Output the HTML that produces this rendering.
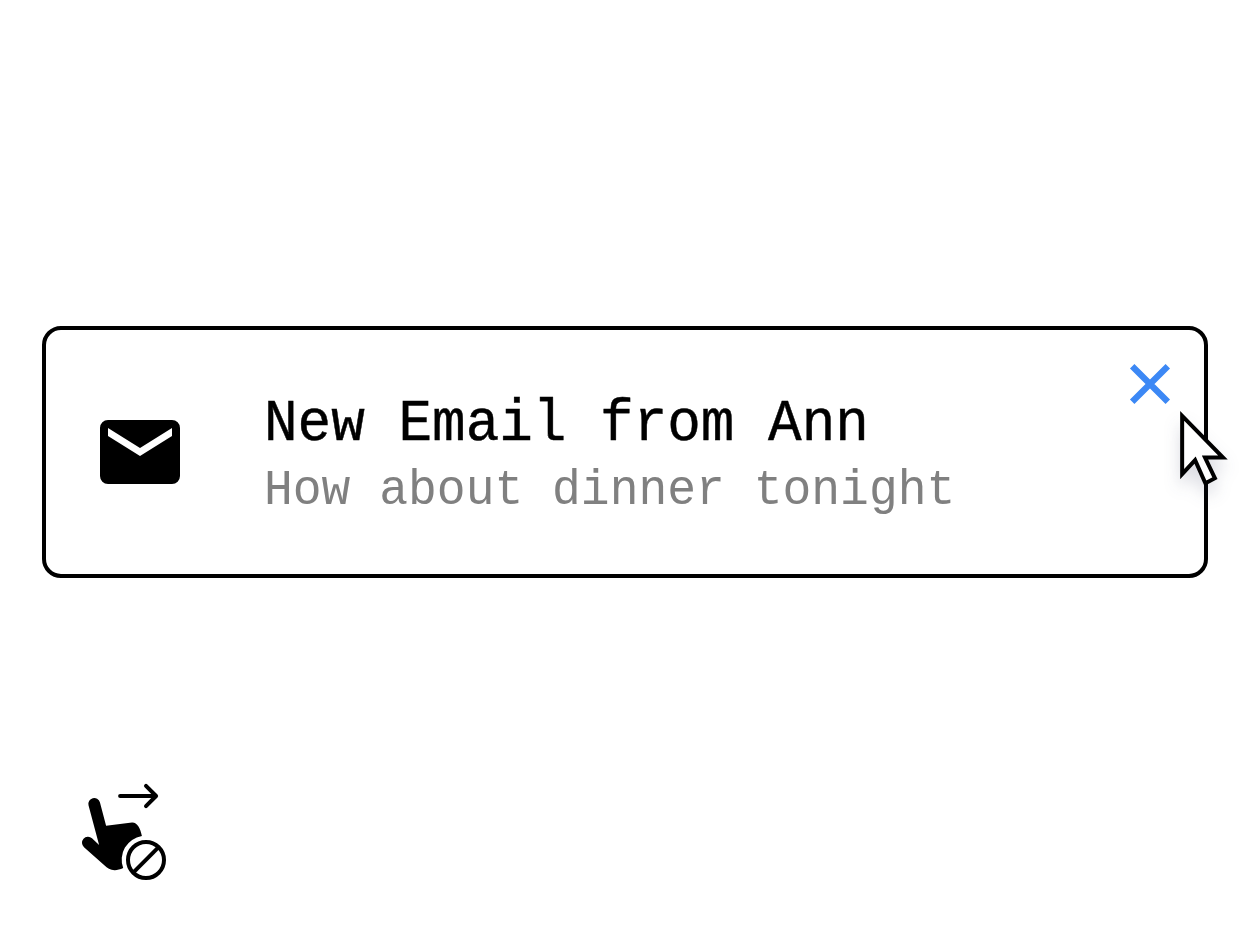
<!DOCTYPE html>
<html lang="en">
<head>
<meta charset="utf-8">
<title>Notification</title>
<style>
html,body{margin:0;padding:0;background:#fff;}
body{width:1248px;height:936px;position:relative;overflow:hidden;font-family:"Liberation Mono","DejaVu Sans Mono",monospace;}
.card{position:absolute;left:42px;top:326px;width:1166px;height:252px;box-sizing:border-box;border:4px solid #000;border-radius:19px;background:#fff;}
.mail{position:absolute;left:92px;top:404px;width:96px;height:96px;}
.title{position:absolute;left:264px;top:393px;margin:0;font-size:56px;line-height:64px;font-weight:400;color:#000;white-space:pre;transform:scaleY(1.045);transform-origin:0 46.9px;-webkit-text-stroke:0.45px #000;}
.sub{position:absolute;left:264px;top:463px;margin:0;font-size:48px;line-height:56px;font-weight:400;color:#808080;white-space:pre;transform:scaleY(1.04);transform-origin:0 40.8px;}
.close{position:absolute;left:1116px;top:350px;width:68px;height:68px;}
.cursor{position:absolute;left:1150px;top:390px;width:100px;height:120px;overflow:visible;}
.swipe{position:absolute;left:64px;top:768px;width:120px;height:120px;overflow:visible;}
</style>
</head>
<body>
<div class="card"></div>
<svg class="mail" viewBox="0 0 24 24" aria-hidden="true"><path fill="#000" fill-rule="evenodd" d="M4 4h16a2 2 0 0 1 2 2v12a2 2 0 0 1-2 2H4a2 2 0 0 1-2-2V6a2 2 0 0 1 2-2zm16 4l-8 5-8-5V6l8 5 8-5v2z"/></svg>
<h1 class="title">New Email from Ann</h1>
<p class="sub">How about dinner tonight</p>
<svg class="close" viewBox="0 0 68 68" aria-hidden="true"><path d="M16.2 16.2L51.8 51.8M51.8 16.2L16.2 51.8" stroke="#3c88f5" stroke-width="6.3" fill="none"/></svg>
<svg class="swipe" viewBox="64 768 120 120" aria-hidden="true">
<path fill="#000" d="M99.1 845L88.5 805.2A5.9 5.9 0 0 1 99.9 802.2L106.1 825.8L132 822.5C137 822.2 140.3 828 141.9 836A24 24 0 0 0 123.2 868.1C120 869.5 117 870.3 114.5 870.2C110.5 870 107 868 104.6 865.5L84 847.2A6 6 0 0 1 92 838.2L99.1 845Z"/>
<circle cx="146" cy="860" r="18" fill="none" stroke="#000" stroke-width="4"/>
<path d="M133.2 872.6L158.6 847.2" stroke="#000" stroke-width="4" fill="none"/>
<path d="M120.1 796H155.5M146 785.9L156.1 796L146 806.1" stroke="#000" stroke-width="4" stroke-linecap="round" stroke-linejoin="round" fill="none"/>
</svg>
<svg class="cursor" viewBox="1150 390 100 120" aria-hidden="true">
<defs><filter id="sh" x="-60%" y="-40%" width="220%" height="200%" color-interpolation-filters="sRGB"><feGaussianBlur in="SourceAlpha" stdDeviation="8"/><feOffset dx="0" dy="10" result="b"/><feFlood flood-color="#2a2e50" flood-opacity="0.17"/><feComposite in2="b" operator="in"/><feMerge><feMergeNode/><feMergeNode in="SourceGraphic"/></feMerge></filter></defs>
<path filter="url(#sh)" d="M1182.15 415.8L1182.15 474.2L1195.1 460.2L1205.4 483.3L1214.9 478.2L1205 457.6L1223 457.6Z" fill="#fff" stroke="#000" stroke-width="4" stroke-linejoin="miter"/>
</svg>
</body>
</html>
